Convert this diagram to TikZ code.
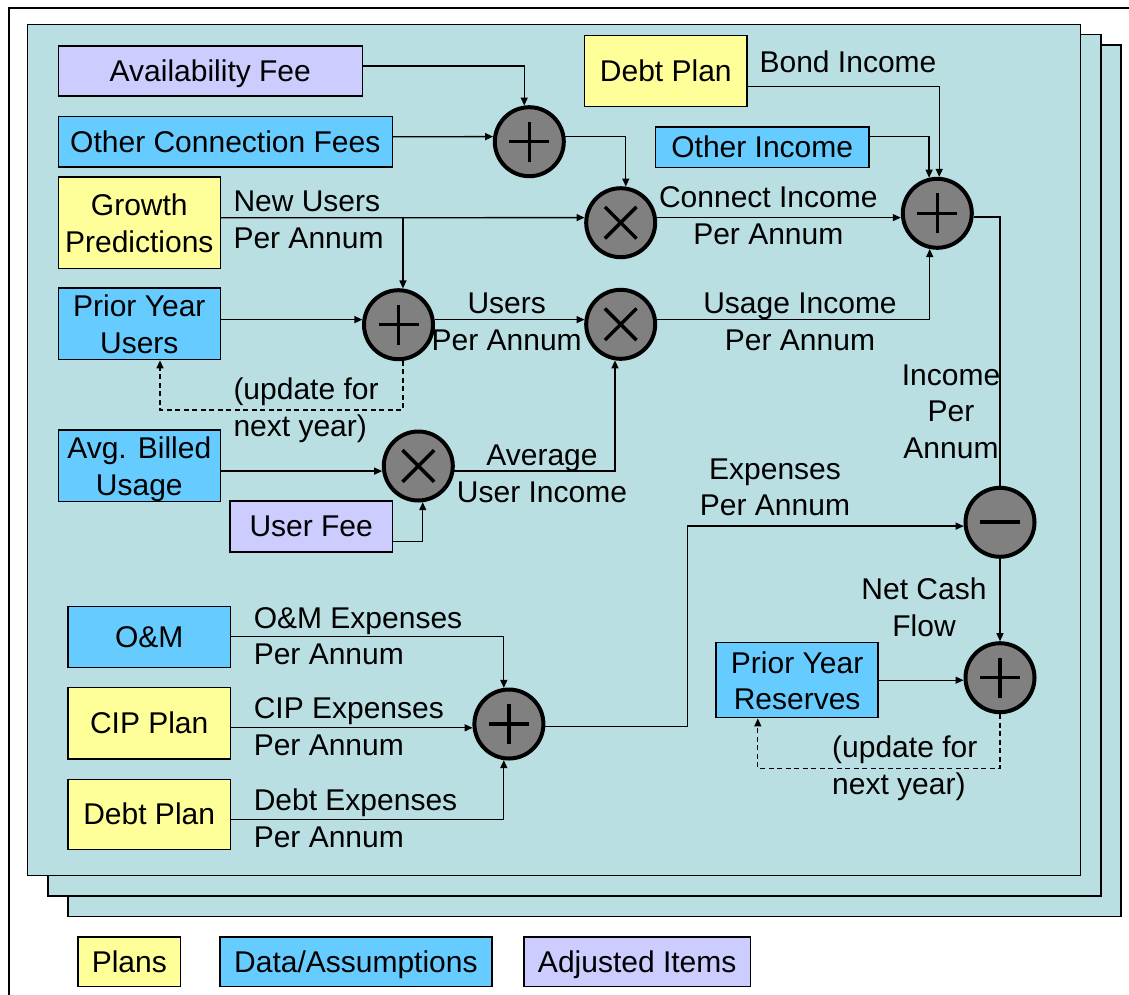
\documentclass[tikz,border=0pt]{standalone}
\usepackage{fontspec}
\setmainfont{Liberation Sans}
\usetikzlibrary{arrows.meta,calc}
\definecolor{panelc}{RGB}{185,223,227}
\definecolor{planc}{RGB}{255,255,153}
\definecolor{datac}{RGB}{102,204,255}
\definecolor{adjc}{RGB}{204,204,255}
\definecolor{opc}{RGB}{128,128,128}
\newcommand{\ppst}{\rule[-0.212em]{0pt}{1.117em}}
\newcommand{\ppsta}{\rule[-6.36pt]{0pt}{35pt}}
\begin{document}
\begin{tikzpicture}[x=1pt,y=-1pt,
  every node/.style={font=\fontsize{30}{36.6}\selectfont},
  box/.style={draw=black, line width=1.5pt, inner sep=0pt, align=center,
     execute at begin node=\ppst, execute at end node=\ppst},
  boxtwo/.style={draw=black, line width=1.5pt, inner sep=0pt, align=center,
     execute at end node=\ppst},
  plan/.style={box, fill=planc},
  data/.style={box, fill=datac},
  adj/.style={box, fill=adjc},
  plantwo/.style={boxtwo, fill=planc},
  datatwo/.style={boxtwo, fill=datac},
  opnode/.style={circle, draw=black, line width=4pt, fill=opc, minimum size=69pt, inner sep=0pt},
  plusop/.style={opnode, path picture={
     \draw[line width=3.5pt] ([xshift=-20pt]path picture bounding box.center) -- ([xshift=20pt]path picture bounding box.center);
     \draw[line width=3.5pt] ([yshift=-20pt]path picture bounding box.center) -- ([yshift=20pt]path picture bounding box.center);}},
  timesop/.style={opnode, path picture={
     \draw[line width=3.5pt] ([shift={(-15.8pt,-15.8pt)}]path picture bounding box.center) -- ([shift={(15.8pt,15.8pt)}]path picture bounding box.center);
     \draw[line width=3.5pt] ([shift={(-15.8pt,15.8pt)}]path picture bounding box.center) -- ([shift={(15.8pt,-15.8pt)}]path picture bounding box.center);}},
  minusop/.style={opnode, path picture={
     \draw[line width=4pt] ([xshift=-20pt]path picture bounding box.center) -- ([xshift=20pt]path picture bounding box.center);}},
  lbl/.style={inner sep=0pt, align=center},
  lbll/.style={inner sep=0pt, align=left, anchor=west},
  conn/.style={line width=1.3pt},
  arr/.style={conn, -{Triangle[length=8pt,width=7pt]}},
  dasharr/.style={arr, dash pattern=on 5pt off 3.5pt},
  panel/.style={draw=black, line width=1.5pt, fill=panelc}
]
\useasboundingbox (0,0) rectangle (1129,994);
% outer frame
\draw[line width=1.8pt] (9,1010) -- (9,8) -- (1145,8);
% stacked panels
\draw[panel] (67.9,45) rectangle (1121,916.7);
\draw[panel] (47.9,34.3) rectangle (1101,896);
\draw[panel] (27.5,24.7) rectangle (1080.7,875.7);

% boxes
\node[adj,  minimum width=304pt, minimum height=50.3pt] (avail) at (210.3,70.9) {Availability Fee};
\node[data, minimum width=334pt, minimum height=50.7pt] (ocf) at (225.3,141.7) {Other Connection Fees};
\node[plantwo, minimum width=162pt, minimum height=91.3pt] (growth) at (139.3,222.7) {\ppsta Growth\\Predictions};
\node[datatwo, minimum width=162pt, minimum height=71pt] (pyu) at (139.3,323.8) {\ppsta Prior Year\\Users};
\node[datatwo, minimum width=162pt, minimum height=70.7pt] (abu) at (139.3,465.7) {\ppsta Avg. Billed\\Usage};
\node[adj,  minimum width=162.3pt, minimum height=51pt] (ufee) at (311.2,526.5) {User Fee};
\node[data, minimum width=162.5pt, minimum height=61pt] (om) at (149.2,636.8) {O\&M};
\node[plan, minimum width=162.5pt, minimum height=71.3pt] (cip) at (149.2,723.3) {CIP Plan};
\node[plan, minimum width=162.5pt, minimum height=70pt] (debt2) at (149.2,814.3) {Debt Plan};
\node[plan, minimum width=162.3pt, minimum height=71.3pt] (debt1) at (665.8,71) {Debt Plan};
\node[data, minimum width=213.7pt, minimum height=40.3pt] (oinc) at (762.2,147.2) {Other Income};
\node[datatwo, minimum width=162.2pt, minimum height=75pt] (pyr) at (797.1,680.2) {\ppsta Prior Year\\Reserves};

% legend
\node[plan, minimum width=102.2pt, minimum height=49.7pt] (lgplan) at (129.3,961.8) {Plans};
\node[data, minimum width=271.8pt, minimum height=49.7pt] (lgdata) at (355.9,961.8) {Data/Assumptions};
\node[adj,  minimum width=226.6pt, minimum height=49.7pt] (lgadj) at (637.2,961.8) {Adjusted Items};

% operators
\node[plusop]  (s1) at (529.3,141.7) {};
\node[timesop] (m1) at (620.7,222.7) {};
\node[plusop]  (s2) at (398.5,324.7) {};
\node[timesop] (m2) at (620.7,324.3) {};
\node[timesop] (m3) at (418.3,466) {};
\node[plusop]  (s3) at (937.3,213.3) {};
\node[minusop] (d1) at (1000,522.3) {};
\node[plusop]  (s4) at (1000,677.7) {};
\node[plusop]  (s5) at (508.9,724) {};

% labels
\node[lbll] (lnew) at (233.3,220) {New Users\\Per Annum};
\node[lbll] (lupd1) at (233.3,410) {(update for\\next year)};
\node[lbl] (lusers) at (506.7,321.7) {Users\\Per Annum};
\node[lbl] (lconn) at (768.3,215.5) {Connect Income\\Per Annum};
\node[lbl] (lusage) at (800,321.7) {Usage Income\\Per Annum};
\node[lbl] (lbond) at (848,61.7) {Bond Income};
\node[lbl] (lavg) at (542,473.8) {Average\\User Income};
\node[lbl] (linc) at (951,411.7) {Income\\Per\\Annum};
\node[lbl] (lexp) at (775,487.5) {Expenses\\Per Annum};
\node[lbl] (lnet) at (924,607.5) {Net Cash\\Flow};
\node[lbll] (lupd2) at (832,768.3) {(update for\\next year)};
\node[lbll] (lom) at (253.6,636.2) {O\&M Expenses\\Per Annum};
\node[lbll] (lcip) at (253.6,726.7) {CIP Expenses\\Per Annum};
\node[lbll] (ldebt) at (253.6,818) {Debt Expenses\\Per Annum};

% connectors
\draw[arr] ([yshift=5pt]avail.east) -| (s1.98);
\draw[arr] ([yshift=5pt]ocf.east) -- (s1.172);
\draw[arr] (s1.8) -| (m1.82);
\draw[arr] ([yshift=5pt]growth.east) -- (m1.172);
\coordinate (jn1) at ([yshift=5pt]growth.east -| s2.83);
\draw[arr] (jn1) -- (s2.83);
\draw[arr] (s2.172 -| pyu.east) -- (s2.172);
\draw[arr] (s2.8) -- (s2.8 -| m2.172);
\draw[arr] (m2.8) -| (s3.-102);
\draw[arr] ([yshift=-15.7pt]debt1.east) -| (s3.87);
\draw[arr] ([yshift=11pt]oinc.east) -| (s3.103);
\draw[arr] (m1.8) -- (m1.8 -| s3.west);
\draw[conn] (s3.-6) -| (d1.north);
\draw[arr] (d1.south) -- (s4.north);
\coordinate (bend) at (687.5,600);
\draw[arr] (s5.-4) -| (bend) |- (d1.186);
\draw[arr] (om.east) -| (s5.98);
\draw[arr] (s5.186 -| cip.east) -- (s5.186);
\draw[arr] ([yshift=-5pt]debt2.east) -| (s5.-98);
\draw[arr] (pyr.east) -- (pyr.east -| s4.west);
\coordinate (dn2) at (757.8,768.3);
\draw[dasharr] (s4.south) |- (dn2) -- (dn2 |- pyr.south);
\coordinate (dn1) at (160,410);
\draw[dasharr] (s2.-83) |- (dn1) -- (dn1 |- pyu.south);
\draw[arr] (m3.188 -| abu.east) -- (m3.188);
\draw[arr] ([yshift=-15.2pt]ufee.east) -| (m3.-83);
\draw[arr] (m3.-8) -| (m2.-99);
\end{tikzpicture}
\end{document}
